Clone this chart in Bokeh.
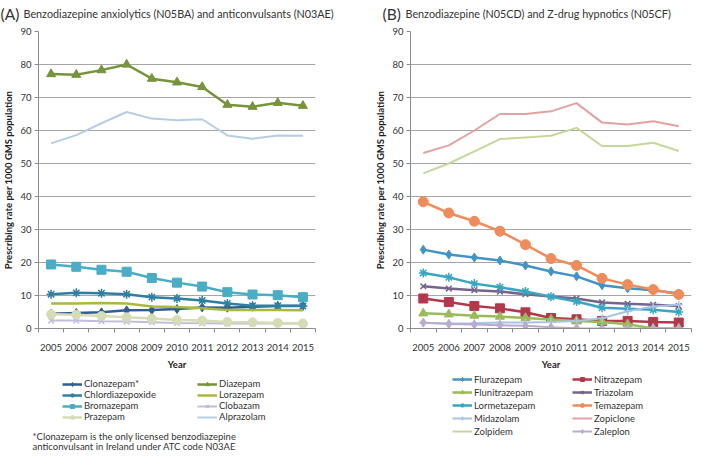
from bokeh.plotting import figure
from bokeh.models import Range1d, FixedTicker, Label, Legend, LegendItem
from bokeh.layouts import row, column
from bokeh.embed import file_html
from bokeh.resources import INLINE

YEARS = [2005, 2006, 2007, 2008, 2009, 2010, 2011, 2012, 2013, 2014, 2015]
Y_TICKS = [0, 10, 20, 30, 40, 50, 60, 70, 80, 90]

# Panel A
CLONAZEPAM = [4.5, 4.7, 4.9, 5.5, 5.6, 5.9, 6.4, 6.3, 6.6, 6.8, 6.9]
DIAZEPAM = [77.1, 76.9, 78.3, 80.0, 75.7, 74.6, 73.2, 67.8, 67.2, 68.4, 67.5]
CHLORDIAZEPOXIDE = [10.4, 10.8, 10.7, 10.4, 9.5, 9.1, 8.5, 7.6, 6.9, 6.9, 6.8]
LORAZEPAM = [7.6, 7.6, 7.7, 7.6, 6.7, 6.5, 6.1, 5.6, 5.6, 5.6, 5.5]
BROMAZEPAM = [19.4, 18.7, 17.8, 17.2, 15.3, 13.9, 12.7, 11.0, 10.3, 10.1, 9.5]
CLOBAZAM = [2.4, 2.4, 2.2, 2.1, 1.9, 1.7, 1.6, 1.5, 1.5, 1.5, 1.5]
PRAZEPAM = [4.3, 4.2, 3.8, 3.4, 3.0, 2.6, 2.4, 2.0, 1.9, 1.7, 1.5]
ALPRAZOLAM = [56.1, 58.6, 62.2, 65.6, 63.6, 63.1, 63.4, 58.5, 57.5, 58.5, 58.4]

# Panel B
FLURAZEPAM = [23.9, 22.4, 21.5, 20.6, 19.1, 17.3, 15.8, 13.1, 12.2, 11.6, 10.6]
NITRAZEPAM = [9.1, 8.0, 6.8, 6.1, 4.9, 3.2, 2.8, 2.3, 2.3, 2.0, 1.8]
FLUNITRAZEPAM = [4.6, 4.3, 3.9, 3.6, 3.2, 2.7, 2.3, 2.0, 1.3, 0.0, 0.0]
TRIAZOLAM = [12.8, 12.1, 11.6, 11.2, 10.4, 9.7, 9.1, 7.9, 7.5, 7.2, 6.8]
LORMETAZEPAM = [16.8, 15.5, 13.6, 12.5, 11.2, 9.6, 8.2, 6.3, 6.0, 5.7, 5.0]
TEMAZEPAM = [38.4, 35.0, 32.5, 29.5, 25.4, 21.2, 19.1, 15.2, 13.3, 11.8, 10.3]
MIDAZOLAM = [1.7, 1.5, 1.6, 1.8, 1.8, 2.0, 2.3, 3.1, 5.2, 6.7, 7.2]
ZOPICLONE = [53.2, 55.5, 60.0, 65.0, 65.0, 65.8, 68.3, 62.4, 61.8, 62.8, 61.3]
ZOLPIDEM = [47.0, 50.0, 53.7, 57.4, 57.9, 58.4, 60.8, 55.3, 55.3, 56.3, 53.8]
ZALEPLON = [1.8, 1.4, 1.2, 1.0, 0.8, 0.4, 0.1, 0.0, 0.0, 0.0, 0.0]

TITLE_A = "Benzodiazepine anxiolytics (N05BA) and anticonvulsants (N03AE)"
TITLE_B = "Benzodiazepine (N05CD) and Z-drug hypnotics (N05CF)"
Y_LABEL = "Prescribing rate per 1000 GMS population"
X_LABEL = "Year"
FOOTNOTE = ["*Clonazepam is the only licensed benzodiazepine",
            "anticonvulsant in Ireland under ATC code N03AE"]

FONT = "Lato"
TEXT = "#333333"
GRID = "#A6A6A6"

SERIES_A = [
    ("Clonazepam*", CLONAZEPAM, "#2E5F8F", "diamond", 9, 2.5),
    ("Diazepam", DIAZEPAM, "#77933C", "triangle", 9, 2.5),
    ("Chlordiazepoxide", CHLORDIAZEPOXIDE, "#2F7FA0", "asterisk", 9, 2.5),
    ("Lorazepam", LORAZEPAM, "#A9B83E", None, 0, 2.5),
    ("Bromazepam", BROMAZEPAM, "#4BACC6", "square", 9, 2.5),
    ("Clobazam", CLOBAZAM, "#C3BCDB", "x", 8, 2.0),
    ("Prazepam", PRAZEPAM, "#D6DCB6", "circle", 9, 2.5),
    ("Alprazolam", ALPRAZOLAM, "#B9CDE2", None, 0, 2.0),
]
SERIES_B = [
    ("Flurazepam", FLURAZEPAM, "#4394C4", "diamond", 9, 2.5),
    ("Nitrazepam", NITRAZEPAM, "#B3384D", "square", 9, 2.5),
    ("Flunitrazepam", FLUNITRAZEPAM, "#9BBB59", "triangle", 9, 2.5),
    ("Triazolam", TRIAZOLAM, "#76648A", "x", 8, 2.5),
    ("Lormetazepam", LORMETAZEPAM, "#38A6C2", "asterisk", 9, 2.5),
    ("Temazepam", TEMAZEPAM, "#EE8C5B", "circle", 10, 2.5),
    ("Midazolam", MIDAZOLAM, "#A9C3E3", "cross", 8, 2.0),
    ("Zopiclone", ZOPICLONE, "#E2A2A2", None, 0, 2.0),
    ("Zolpidem", ZOLPIDEM, "#C5D89C", None, 0, 2.0),
    ("Zaleplon", ZALEPLON, "#B8ACCF", "diamond", 9, 2.0),
]


def add_series(p, s):
    name, vals, color, marker, size, lw = s
    rs = [p.line(YEARS, vals, line_color=color, line_width=lw)]
    if marker:
        if marker in ("x", "asterisk", "cross"):
            rs.append(p.scatter(YEARS, vals, marker=marker, size=size,
                                line_color=color, line_width=1.5, fill_color=None))
        else:
            rs.append(p.scatter(YEARS, vals, marker=marker, size=size,
                                line_color=color, line_width=1, fill_color=color))
    return rs


def blank(width, height):
    # helper canvas without axes for headings and legends
    p = figure(width=width, height=height, output_backend="svg", toolbar_location=None,
               x_range=Range1d(-2, -1), y_range=Range1d(-2, -1),
               x_axis_location=None, y_axis_location=None,
               min_border_left=0, min_border_right=0, min_border_top=0,
               min_border_bottom=0)
    p.outline_line_color = None
    p.grid.visible = False
    return p


def make_main(width, border_left, border_right, series):
    p = figure(width=width, height=345, output_backend="svg", toolbar_location=None,
               x_range=Range1d(YEARS[0] - 0.5, YEARS[-1] + 0.5),
               y_range=Range1d(0, 90),
               min_border_left=border_left, min_border_right=border_right,
               min_border_top=4, min_border_bottom=39)
    p.outline_line_color = None
    p.xgrid.visible = False
    p.ygrid.grid_line_color = GRID
    p.ygrid.grid_line_width = 1
    p.yaxis.ticker = FixedTicker(ticks=Y_TICKS)
    p.xaxis.ticker = FixedTicker(ticks=YEARS,
                                 minor_ticks=[y - 0.5 for y in YEARS] + [YEARS[-1] + 0.5])
    for ax in (p.xaxis[0], p.yaxis[0]):
        ax.axis_line_color = "#8C8C8C"
        ax.major_tick_line_color = "#8C8C8C"
        ax.minor_tick_line_color = "#8C8C8C"
        ax.major_label_text_font = FONT
        ax.major_label_text_font_size = "9.5px"
        ax.major_label_text_color = TEXT
        ax.axis_label_text_font = FONT
        ax.axis_label_text_font_size = "9.5px"
        ax.axis_label_text_font_style = "bold"
        ax.axis_label_text_color = "#222222"
        ax.major_tick_in = 0
        ax.minor_tick_in = 0
    p.xaxis.major_tick_out = 0
    p.xaxis.minor_tick_out = 4
    p.xaxis.major_label_standoff = 11
    p.xaxis.axis_label = X_LABEL
    p.xaxis.axis_label_standoff = 5
    p.yaxis.major_tick_out = 4
    p.yaxis.minor_tick_out = 0
    p.yaxis.major_label_standoff = 3
    p.yaxis.axis_label = Y_LABEL
    p.yaxis.axis_label_standoff = 3
    for s in series:
        add_series(p, s)
    return p


WIDTH = 693

# heading strip
head = blank(WIDTH, 27)
for text, x, size in [("(A)", 0, "15.5px"), (TITLE_A, 23, "10.8px"),
                      ("(B)", 382, "15.5px"), (TITLE_B, 405, "10.8px")]:
    head.add_layout(Label(x=x, y=14, x_units="screen", y_units="screen",
                          text=text, text_font=FONT, text_font_size=size,
                          text_color=TEXT, text_baseline="middle"))

main_a = make_main(372, 30, 57, SERIES_A)
main_b = make_main(321, 37, 2, SERIES_B)

# legend strip
foot = blank(WIDTH, 78)
items_a = [LegendItem(label=s[0], renderers=add_series(foot, s)) for s in SERIES_A]
items_b = [LegendItem(label=s[0], renderers=add_series(foot, s)) for s in SERIES_B]
legend_specs = [
    (items_a, [0, 2, 4, 6], 62, 28, 11, 0),
    (items_a, [1, 3, 5, 7], 197, 28, 11, 0),
    (items_b, [0, 2, 4, 6, 8], 452, 13, 12, 1),
    (items_b, [1, 3, 5, 7, 9], 572, 13, 12, 1),
]
for items, idx, lx, ly, lh, sp in legend_specs:
    foot.add_layout(Legend(items=[items[i] for i in idx], location=(lx, ly),
                           orientation="vertical", border_line_color=None,
                           background_fill_alpha=0, padding=0, margin=0, spacing=sp,
                           label_height=lh, glyph_height=10, glyph_width=20,
                           label_standoff=2, label_text_font=FONT,
                           label_text_font_size="9.5px", label_text_color=TEXT))
for i, line in enumerate(FOOTNOTE):
    foot.add_layout(Label(x=32, y=14 - 9.5 * i, x_units="screen", y_units="screen",
                          text=line, text_font=FONT, text_font_size="9.5px",
                          text_color=TEXT, text_baseline="middle"))

layout = column(head, row(main_a, main_b), foot)
open("out.html", "w").write(file_html(layout, INLINE))
